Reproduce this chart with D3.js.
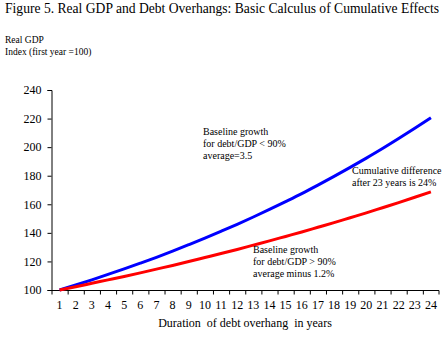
<!DOCTYPE html>
<html>
<head>
<meta charset="utf-8">
<script src="https://cdn.jsdelivr.net/npm/d3@7"></script>
<style>
  body { margin: 0; background: #fff; }
  svg text { font-family: "Liberation Serif", "Times New Roman", serif; fill: #000; }
</style>
</head>
<body>
<div id="chart"></div>
<script>
// years of debt overhang
var years = d3.range(1, 25);
// real GDP index, debt/GDP below 90%
var lowDebt = [100, 103.5, 107.1, 110.9, 114.8, 118.8, 122.9, 127.2, 131.7, 136.3, 141.1, 146.0,
               151.1, 156.4, 161.9, 167.5, 173.4, 179.5, 185.8, 192.3, 199.0, 206.0, 213.2, 220.6];
// real GDP index, debt/GDP above 90%
var highDebt = [100, 102.3, 104.7, 107.1, 109.5, 112.0, 114.6, 117.2, 119.9, 122.7, 125.5, 128.4,
                131.4, 134.4, 137.5, 140.6, 143.9, 147.2, 150.6, 154.0, 157.6, 161.2, 164.9, 168.7];
var yTicks = [100, 120, 140, 160, 180, 200, 220, 240];

var width = 447, height = 343;
var svg = d3.select("#chart").append("svg")
    .attr("width", width)
    .attr("height", height);

var x = d3.scaleBand().domain(years).range([51.5, 439]);
var y = d3.scaleLinear().domain([100, 240]).range([290, 90]);

// titles
svg.append("text").attr("x", 5).attr("y", 13)
    .style("font-size", "13.6px")
    .text("Figure 5. Real GDP and Debt Overhangs: Basic Calculus of Cumulative Effects");
svg.append("text").attr("x", 5).attr("y", 43)
    .style("font-size", "9.5px")
    .text("Real GDP");
svg.append("text").attr("x", 5).attr("y", 55)
    .style("font-size", "9.5px")
    .text("Index (first year =100)");

// y axis
var yAxis = d3.axisLeft(y).tickValues(yTicks).tickSize(4).tickPadding(6);
var gy = svg.append("g").attr("transform", "translate(51.5,0)").call(yAxis);
gy.selectAll("text").style("font-size", "12px").style("font-family", "Liberation Serif, serif");
gy.select(".domain").attr("d", "M-4,90.5H0.5V290.5");

// x axis, ticks sit between the categories
var gx = svg.append("g").attr("transform", "translate(0,290.5)");
gx.append("line").attr("x1", 47.5).attr("x2", 439).attr("y1", 0).attr("y2", 0)
    .attr("stroke", "#000");
gx.selectAll("line.tick").data(years.concat([25])).enter().append("line")
    .attr("class", "tick")
    .attr("x1", function (d) { return d === 25 ? 439 : x(d) + 0.5; })
    .attr("x2", function (d) { return d === 25 ? 439 : x(d) + 0.5; })
    .attr("y1", 0).attr("y2", 4)
    .attr("stroke", "#000");
gx.selectAll("text").data(years).enter().append("text")
    .attr("x", function (d) { return x(d) + x.bandwidth() / 2; })
    .attr("y", 18)
    .attr("text-anchor", "middle")
    .style("font-size", "12px")
    .text(function (d) { return d; });

svg.append("text").attr("x", 245).attr("y", 327)
    .attr("text-anchor", "middle")
    .style("font-size", "12px")
    .attr("xml:space", "preserve")
    .text("Duration  of debt overhang  in years");

// lines
var line = d3.line()
    .x(function (d, i) { return x(years[i]) + x.bandwidth() / 2; })
    .y(function (d) { return y(d); })
    .curve(d3.curveMonotoneX);

svg.append("path").datum(lowDebt)
    .attr("d", line)
    .attr("fill", "none")
    .attr("stroke", "#0000ff")
    .attr("stroke-width", 3);
svg.append("path").datum(highDebt)
    .attr("d", line)
    .attr("fill", "none")
    .attr("stroke", "#ff0000")
    .attr("stroke-width", 3);

// annotations
function note(lines, x0, y0) {
    var t = svg.append("text").style("font-size", "10px");
    lines.forEach(function (s, i) {
        t.append("tspan").attr("x", x0).attr("y", y0 + i * 12).text(s);
    });
}
note(["Baseline growth", "for debt/GDP < 90%", "average=3.5"], 203, 135);
note(["Cumulative difference", "after 23 years is 24%"], 352, 174);
note(["Baseline growth", "for debt/GDP > 90%", "average minus 1.2%"], 253, 253);
</script>
</body>
</html>
